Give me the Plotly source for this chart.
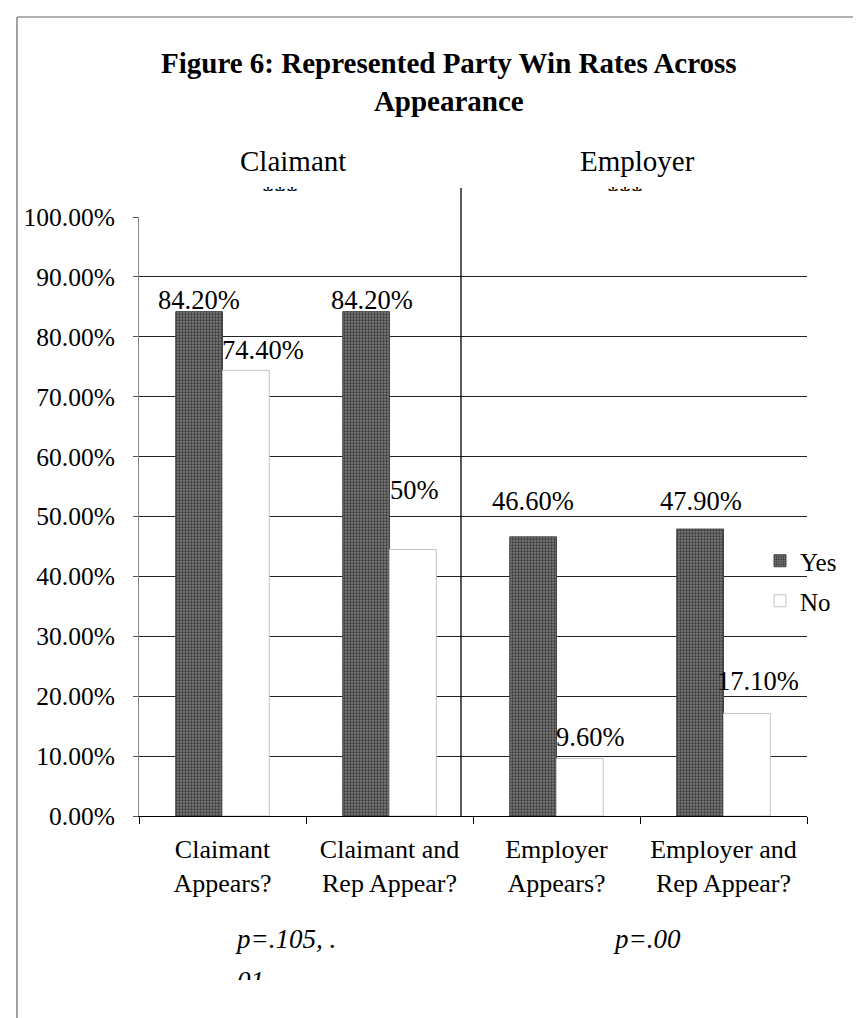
import plotly.graph_objects as go

# ---------------- data ----------------
categories = ["Claimant<br>Appears?", "Claimant and<br>Rep Appear?",
              "Employer<br>Appears?", "Employer and<br>Rep Appear?"]
yes_values = [84.2, 84.2, 46.6, 47.9]
no_values = [74.4, 44.5, 9.6, 17.1]
yes_labels = ["84.20%", "84.20%", "46.60%", "47.90%"]
no_labels = ["74.40%", "50%", "9.60%", "17.10%"]
ytick_vals = [0, 10, 20, 30, 40, 50, 60, 70, 80, 90, 100]
ytick_text = ["0.00%", "10.00%", "20.00%", "30.00%", "40.00%", "50.00%",
              "60.00%", "70.00%", "80.00%", "90.00%", "100.00%"]
group_names = ["Claimant", "Employer"]
group_marks = ["***", "***"]
p_texts = ["p=.105, .", "p=.00"]
p_overflow = "01"

# ---------------- geometry helpers (pixel -> paper) ----------------
W, H = 861, 1018
L, R, T, B = 131, 62, 209, 210
PW, PH = W - L - R, H - T - B


def px(x):
    return (x - L) / PW


def py(y):
    return (H - B - y) / PH


FONT = "Liberation Serif, Times New Roman, serif"

fig = go.Figure()
fig.add_trace(go.Bar(
    x=categories, y=yes_values, name="Yes", legend="legend",
    marker=dict(color="#656565", line=dict(color="#444", width=1),
                pattern=dict(shape=".", fgcolor="#383838", bgcolor="#7a7a7a",
                             size=3, solidity=0.45, fillmode="replace")),
))
fig.add_trace(go.Bar(
    x=categories, y=no_values, name="No", legend="legend2",
    marker=dict(color="white", line=dict(color="#c4c4c4", width=1)),
))

# value labels (offsets in px relative to bar top / bar centre)
yes_off = [(0, 12), (6, 12), (0, 36), (1, 28)]
no_off = [(17, 20), (1, 59), (10, 22), (11, 33)]
half = 23.5
for i, c in enumerate(categories):
    fig.add_annotation(x=c, y=yes_values[i], text=yes_labels[i], showarrow=False,
                       xanchor="center", xshift=-half + yes_off[i][0], yshift=yes_off[i][1],
                       yanchor="middle", font=dict(family=FONT, size=26.5, color="black"))
    fig.add_annotation(x=c, y=no_values[i], text=no_labels[i], showarrow=False,
                       xanchor="center", xshift=half + no_off[i][0], yshift=no_off[i][1],
                       yanchor="middle", font=dict(family=FONT, size=26.5, color="black"))

# title
fig.add_annotation(xref="paper", yref="paper", x=px(441), y=py(74),
                   text="<b>Figure 6: Represented Party Win Rates Across<br>Appearance</b>",
                   showarrow=False, yanchor="middle", xanchor="center",
                   font=dict(family=FONT, size=29, color="black"))

# group labels and their (clipped) significance marks
for name, xc in zip(group_names, [285, 629]):
    fig.add_annotation(xref="paper", yref="paper", x=px(xc), y=py(153), text=name,
                       showarrow=False, yanchor="middle", xanchor="center",
                       font=dict(family=FONT, size=29, color="black"))
for mark, xc in zip(group_marks, [272, 617]):
    fig.add_annotation(xref="paper", yref="paper", x=px(xc), y=py(171), text=mark,
                       showarrow=False, yanchor="top", xanchor="center",
                       height=10, valign="top",
                       font=dict(family=FONT, size=24, color="black"))

# p values
for t, xc in zip(p_texts, [277, 639]):
    fig.add_annotation(xref="paper", yref="paper", x=px(xc), y=py(931), text="<i>" + t + "</i>",
                       showarrow=False, yanchor="middle", xanchor="center",
                       font=dict(family=FONT, size=27, color="black"))
fig.add_annotation(xref="paper", yref="paper", x=px(242), y=py(956), text="<i>" + p_overflow + "</i>",
                   showarrow=False, yanchor="top", xanchor="center",
                   height=14, valign="top",
                   font=dict(family=FONT, size=27, color="black"))

shapes = []
# separator line between claimant and employer
shapes.append(dict(type="line", xref="paper", yref="paper", x0=px(453), x1=px(453),
                   y0=0, y1=py(180), line=dict(color="black", width=1.3), layer="above"))
# frame of the scanned page
shapes.append(dict(type="line", xref="paper", yref="paper", x0=px(9), x1=px(9),
                   y0=py(9), y1=py(1018), line=dict(color="#666", width=1.2)))
shapes.append(dict(type="line", xref="paper", yref="paper", x0=px(9), x1=px(858),
                   y0=py(9), y1=py(9), line=dict(color="#666", width=1.2)))

fig.update_layout(
    width=W, height=H,
    margin=dict(l=L, r=R, t=T, b=B, pad=0),
    paper_bgcolor="white", plot_bgcolor="white",
    barmode="group", bargap=0.44, bargroupgap=0,
    font=dict(family=FONT, size=24, color="black"),
    shapes=shapes,
    showlegend=True,
    legend=dict(x=px(752), y=py(553), xanchor="left", yanchor="middle",
                bgcolor="rgba(0,0,0,0)", font=dict(family=FONT, size=25)),
    legend2=dict(x=px(752), y=py(593), xanchor="left", yanchor="middle",
                 bgcolor="rgba(0,0,0,0)", font=dict(family=FONT, size=25)),
    xaxis=dict(showline=True, linecolor="black", linewidth=1.3,
               ticks="outside", tickson="boundaries", ticklen=7, tickcolor="black",
               tickfont=dict(family=FONT, size=26), showgrid=False,
               ticklabelstandoff=10),
    yaxis=dict(range=[0, 100], tickvals=ytick_vals, ticktext=ytick_text,
               showline=True, linecolor="#888", linewidth=1,
               ticks="outside", ticklen=5, tickcolor="#555",
               showgrid=True, gridcolor="#222", gridwidth=1.2,
               zeroline=False, tickfont=dict(family=FONT, size=25.5),
               ticklabelstandoff=13),
)

fig.write_html("out.html")
